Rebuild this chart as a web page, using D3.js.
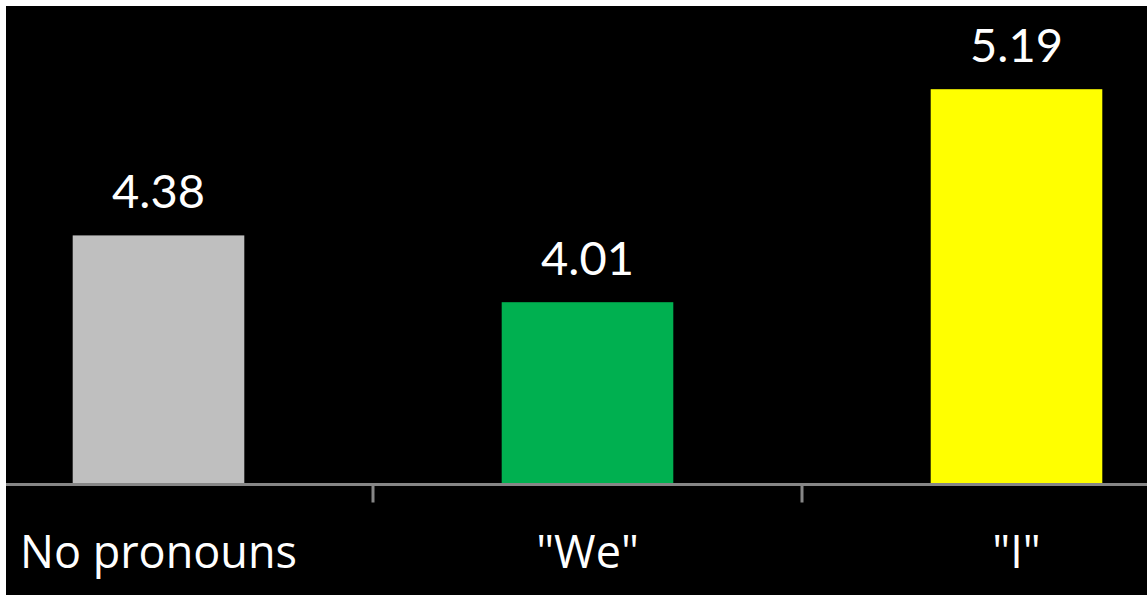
<!DOCTYPE html>
<html>
<head>
<meta charset="utf-8">
<script src="https://cdn.jsdelivr.net/npm/d3@7"></script>
<style>
  html, body { margin: 0; padding: 0; background: #ffffff; }
  svg { display: block; }
</style>
</head>
<body>
<svg id="chart" width="1147" height="595"></svg>
<script>
const categories = ['No pronouns', '"We"', '"I"'];
const values = [4.38, 4.01, 5.19];
const barColors = ['#BFBFBF', '#00B050', '#FFFF00'];
const yDomain = [3, 6];

const W = 1147, H = 595;
const svg = d3.select('#chart');

svg.append('rect').attr('x', 0).attr('y', 0).attr('width', W).attr('height', H).attr('fill', '#ffffff');
svg.append('rect').attr('x', 6).attr('y', 6).attr('width', W - 6).attr('height', H - 6).attr('fill', '#000000');

const baseY = 484.5;
const x = d3.scaleBand().domain(categories).range([-56, 1231]).paddingInner(0).paddingOuter(0);
const y = d3.scaleLinear().domain(yDomain).range([baseY, baseY - 3 * 180.5]);

const bw = x.bandwidth() * 0.4;

const g = svg.append('g');
g.selectAll('rect.bar').data(categories).join('rect')
  .attr('class', 'bar')
  .attr('x', d => x(d) + x.bandwidth() / 2 - bw / 2)
  .attr('width', bw)
  .attr('y', (d, i) => y(values[i]))
  .attr('height', (d, i) => baseY - y(values[i]))
  .attr('fill', (d, i) => barColors[i]);

g.selectAll('text.val').data(categories).join('text')
  .attr('class', 'val')
  .attr('x', d => x(d) + x.bandwidth() / 2)
  .attr('y', (d, i) => y(values[i]) - 27)
  .attr('text-anchor', 'middle')
  .attr('fill', '#ffffff')
  .style('font-family', 'Lato, "Open Sans", sans-serif')
  .style('font-size', '47px')
  .text((d, i) => values[i].toFixed(2));

const axis = d3.axisBottom(x).tickSize(0).tickFormat('');
const ax = svg.append('g').attr('transform', `translate(0,${baseY})`).call(axis);
ax.select('.domain').remove();
ax.selectAll('.tick').remove();
ax.append('line').attr('x1', 6).attr('x2', W).attr('y1', 0).attr('y2', 0)
  .attr('stroke', '#868686').attr('stroke-width', 3);
const boundaries = categories.slice(1).map(c => x(c));
ax.selectAll('line.bt').data(boundaries).join('line')
  .attr('class', 'bt')
  .attr('x1', d => d).attr('x2', d => d)
  .attr('y1', 0).attr('y2', 18)
  .attr('stroke', '#868686').attr('stroke-width', 3);

svg.selectAll('text.cat').data(categories).join('text')
  .attr('class', 'cat')
  .attr('x', d => x(d) + x.bandwidth() / 2)
  .attr('y', 568)
  .attr('text-anchor', 'middle')
  .attr('fill', '#ffffff')
  .style('font-family', '"Open Sans", Lato, sans-serif')
  .style('font-size', '45px')
  .text(d => d);
</script>
</body>
</html>
